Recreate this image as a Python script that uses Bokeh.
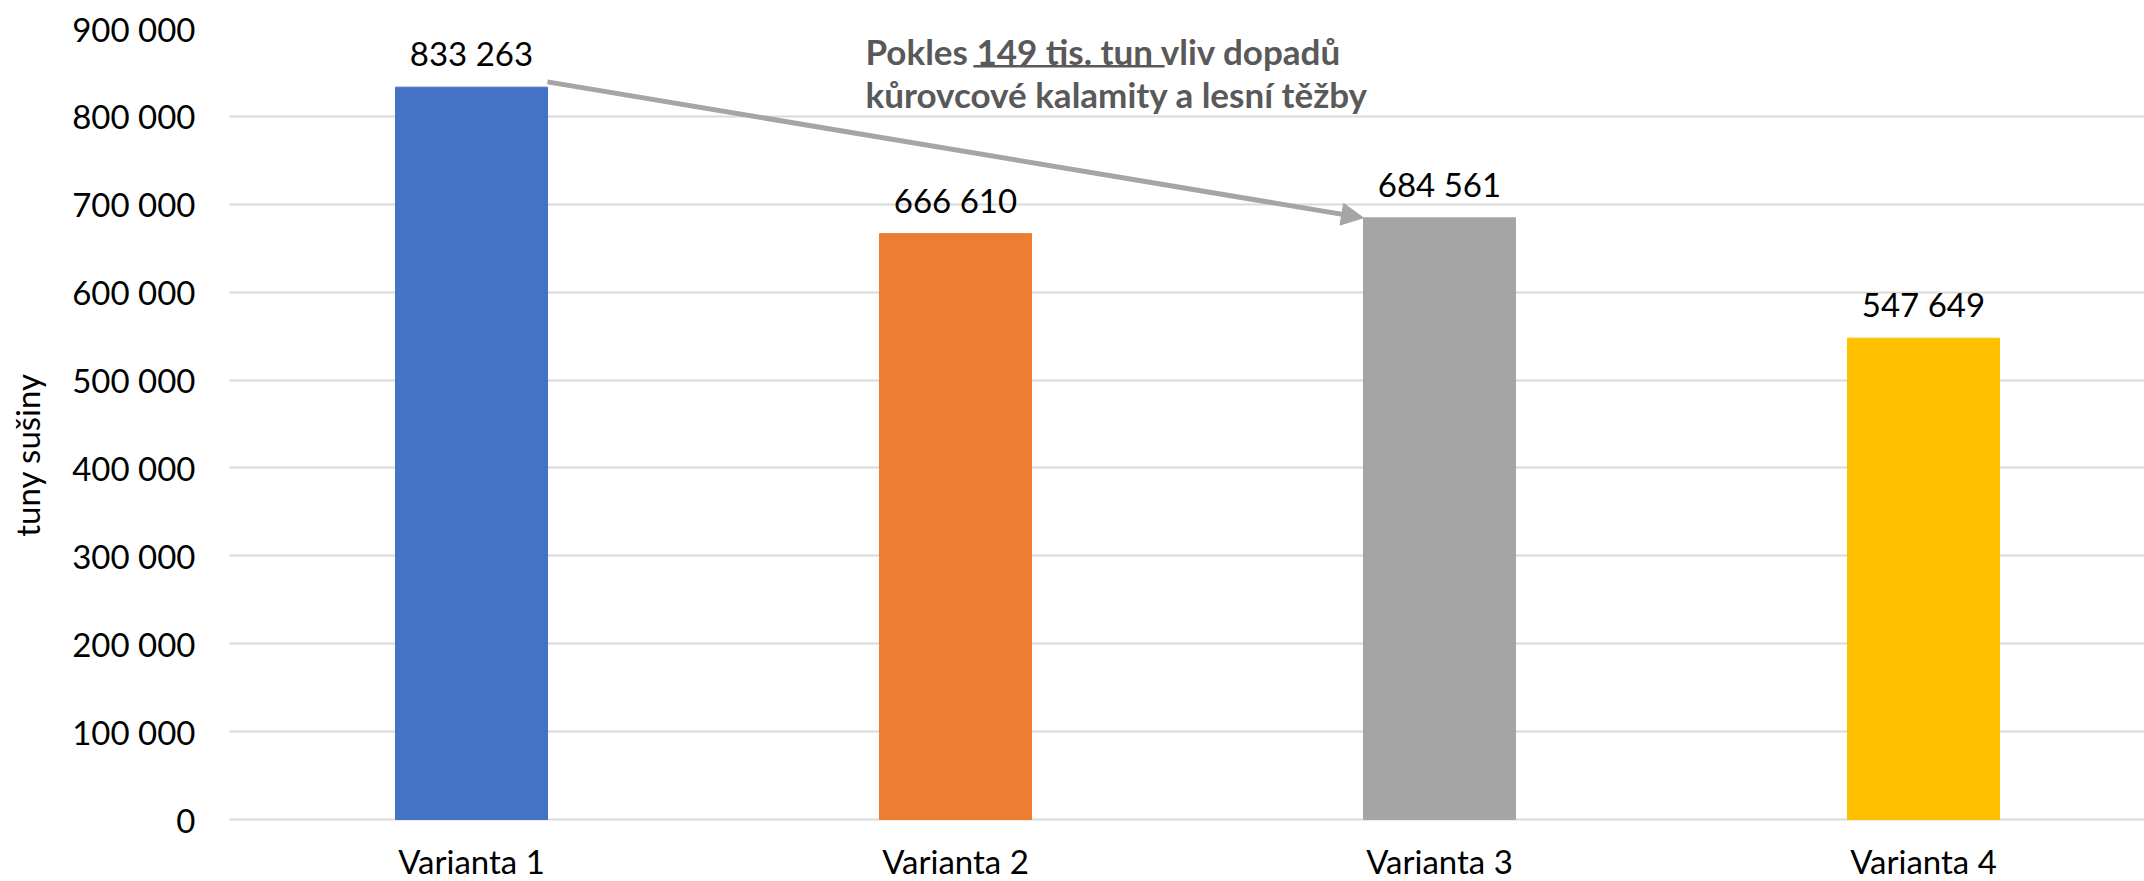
from bokeh.plotting import figure
from bokeh.models import Range1d, FixedTicker, Arrow, NormalHead, Label, LabelSet, ColumnDataSource
from bokeh.core.properties import value
from bokeh.embed import file_html
from bokeh.resources import INLINE

categories = ["Varianta 1", "Varianta 2", "Varianta 3", "Varianta 4"]
values = [833263, 666610, 684561, 547649]
colors = ["#4472C4", "#ED7D31", "#A5A5A5", "#FFC000"]
y_ticks = [0, 100000, 200000, 300000, 400000, 500000, 600000, 700000, 800000, 900000]
y_tick_labels = ["0", "100 000", "200 000", "300 000", "400 000", "500 000",
                 "600 000", "700 000", "800 000", "900 000"]
y_title = "tuny sušiny"
note_line1 = "Pokles 149 tis. tun vliv dopadů"
note_line2 = "kůrovcové kalamity a lesní těžby"

FONT = "Lato"
BAR_W = 0.314

xs = list(range(1, len(categories) + 1))
labels = [f"{v:,}".replace(",", " ") for v in values]
src = ColumnDataSource(dict(x=xs, top=values, color=colors, label=labels,
                            cat=categories, zero=[0] * len(xs)))

# layout (pixels)
W, H = 2144, 881
FRAME_LEFT = 229
FRAME_TOP = 28
ZERO_PX = 819           # y of the zero line inside the canvas
CAT_PX = 484.0          # pixels per category
Y_MAX = 900000
y_start = -Y_MAX * (H - ZERO_PX) / (ZERO_PX - FRAME_TOP)

p = figure(width=W, height=H, output_backend="svg", toolbar_location=None,
           x_range=Range1d(0.5, 0.5 + (W - FRAME_LEFT) / CAT_PX),
           y_range=Range1d(y_start, Y_MAX),
           min_border_left=FRAME_LEFT, min_border_right=0,
           min_border_top=FRAME_TOP, min_border_bottom=0)
p.outline_line_color = None
p.background_fill_color = "white"
p.border_fill_color = "white"

p.vbar(x="x", top="top", width=BAR_W, color="color", source=src)

# value labels
p.add_layout(LabelSet(x="x", y="top", text="label", source=src, text_align="center",
                      text_baseline="alphabetic", y_offset=21, text_font=value(FONT),
                      text_font_size="33px", text_color="#000000"))

# category labels (x axis)
p.add_layout(LabelSet(x="x", y="zero", text="cat", source=src, text_align="center",
                      text_baseline="alphabetic", y_offset=-54, text_font=value(FONT),
                      text_font_size="33px", text_color="#000000"))

# axes
p.xaxis.visible = False
p.xgrid.visible = False
p.ygrid.grid_line_color = "#D9D9D9"
p.ygrid.grid_line_width = 2
p.ygrid.ticker = FixedTicker(ticks=y_ticks)

p.yaxis.ticker = FixedTicker(ticks=y_ticks)
p.yaxis.major_label_overrides = {t: l for t, l in zip(y_ticks, y_tick_labels)}
p.yaxis.axis_line_color = None
p.yaxis.major_tick_line_color = None
p.yaxis.minor_tick_line_color = None
p.yaxis.major_tick_out = 0
p.yaxis.major_label_standoff = 34
p.yaxis.major_label_text_font = FONT
p.yaxis.major_label_text_font_size = "33px"
p.yaxis.major_label_text_color = "#000000"
p.yaxis.axis_label = y_title
p.yaxis.axis_label_text_font = FONT
p.yaxis.axis_label_text_font_size = "33px"
p.yaxis.axis_label_text_font_style = "normal"
p.yaxis.axis_label_text_color = "#000000"
p.yaxis.axis_label_standoff = 22

# arrow from bar 1 to bar 3
arrow = Arrow(end=NormalHead(size=22, fill_color="#A5A5A5", line_color="#A5A5A5", line_width=1),
              x_start=xs[0] + BAR_W / 2, y_start=values[0] + 6000,
              x_end=xs[2] - BAR_W / 2, y_end=values[2],
              line_color="#A5A5A5", line_width=5)
p.add_layout(arrow)

# annotation
note_x = 1.814
l1 = Label(x=note_x, y=Y_MAX, text=note_line1, text_font=FONT, text_font_size="35px",
           text_font_style="bold", text_color="#595959", text_baseline="alphabetic", y_offset=-22)
l2 = Label(x=note_x, y=Y_MAX, text=note_line2, text_font=FONT, text_font_size="35px",
           text_font_style="bold", text_color="#595959", text_baseline="alphabetic", y_offset=-65)
p.add_layout(l1)
p.add_layout(l2)
# underline under "149 tis. tun "
p.segment(x0=[2.037], y0=[857000], x1=[2.432], y1=[857000], line_color="#595959", line_width=2.5)

open("out.html", "w").write(file_html(p, INLINE))
